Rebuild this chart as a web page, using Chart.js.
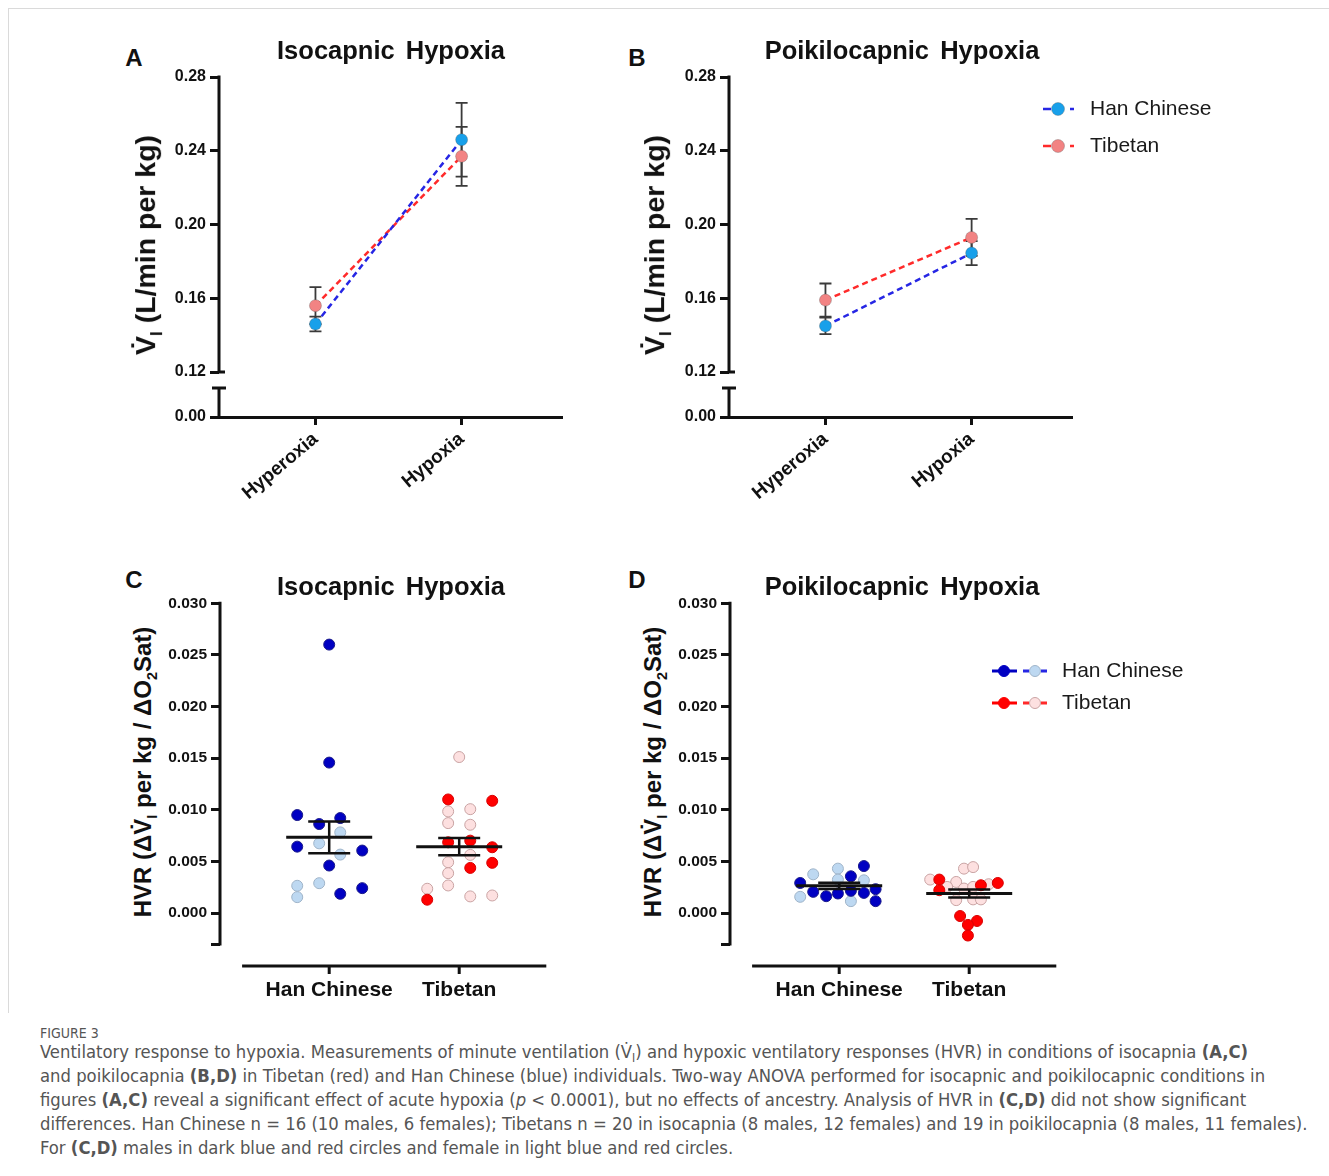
<!DOCTYPE html>
<html>
<head>
<meta charset="utf-8">
<title>Figure 3 - Ventilatory response to hypoxia</title>
<script src="https://cdn.jsdelivr.net/npm/chart.js@4.4.1/dist/chart.umd.min.js"></script>
<style>
  body { margin: 0; background: #fff; width: 1329px; height: 1176px; position: relative; overflow: hidden; font-family: 'Liberation Sans', Arial, sans-serif; }
  .frame { position: absolute; left: 8px; top: 8px; width: 1330px; height: 1004px; border-top: 1px solid #dadada; border-left: 1px solid #dadada; }
  canvas { position: absolute; }
  .txt { position: absolute; color: #111; font-weight: bold; white-space: nowrap; line-height: 1; transform: translate(-50%, -50%); }
  .letter { font-size: 24px; }
  .title { font-size: 25.5px; word-spacing: 4px; }
  .ytitle { transform: translate(-50%, -50%) rotate(-90deg); }
  .ytitle sub { font-size: 60%; }
  .fig { position: absolute; left: 40px; top: 1025px; font-family: 'DejaVu Sans Condensed', 'Liberation Sans Narrow', sans-serif; font-size: 14px; line-height: 16px; color: #555; }
  .caption { position: absolute; left: 40px; top: 1040px; font-family: 'DejaVu Sans Condensed', 'Liberation Sans Narrow', sans-serif; font-size: 18.3px; line-height: 24px; color: #555; white-space: nowrap; }
  .caption sub { font-size: 65%; vertical-align: baseline; position: relative; top: 0.35em; line-height: 0; }
</style>
</head>
<body>
<div class="frame"></div>

<canvas id="chartA" width="440" height="460" style="left:160px; top:60px;"></canvas>
<canvas id="chartB" width="570" height="460" style="left:670px; top:60px;"></canvas>
<canvas id="chartC" width="420" height="430" style="left:160px; top:590px;"></canvas>
<canvas id="chartD" width="570" height="430" style="left:670px; top:590px;"></canvas>

<div class="txt letter" style="left:134px; top:58px;">A</div>
<div class="txt letter" style="left:637px; top:58px;">B</div>
<div class="txt letter" style="left:134px; top:580px;">C</div>
<div class="txt letter" style="left:637px; top:580px;">D</div>

<div class="txt title" style="left:391px; top:51px;">Isocapnic Hypoxia</div>
<div class="txt title" style="left:902px; top:51px;">Poikilocapnic Hypoxia</div>
<div class="txt title" style="left:391px; top:587px;">Isocapnic Hypoxia</div>
<div class="txt title" style="left:902px; top:587px;">Poikilocapnic Hypoxia</div>

<div class="txt ytitle" style="left:148px; top:245px; font-size:28.5px;">V&#775;<sub>I</sub> (L/min per kg)</div>
<div class="txt ytitle" style="left:657px; top:245px; font-size:28.5px;">V&#775;<sub>I</sub> (L/min per kg)</div>
<div class="txt ytitle" style="left:145px; top:772px; font-size:24px;">HVR (&Delta;V&#775;<sub>I</sub> per kg / &Delta;O<sub>2</sub>Sat)</div>
<div class="txt ytitle" style="left:655px; top:772px; font-size:24px;">HVR (&Delta;V&#775;<sub>I</sub> per kg / &Delta;O<sub>2</sub>Sat)</div>

<div class="fig">FIGURE 3</div>
<div class="caption">
Ventilatory response to hypoxia. Measurements of minute ventilation (V&#775;<sub>I</sub>) and hypoxic ventilatory responses (HVR) in conditions of isocapnia <b>(A,C)</b><br>
and poikilocapnia <b>(B,D)</b> in Tibetan (red) and Han Chinese (blue) individuals. Two-way ANOVA performed for isocapnic and poikilocapnic conditions in<br>
figures <b>(A,C)</b> reveal a significant effect of acute hypoxia (<i>p</i> &lt; 0.0001), but no effects of ancestry. Analysis of HVR in <b>(C,D)</b> did not show significant<br>
differences. Han Chinese n = 16 (10 males, 6 females); Tibetans n = 20 in isocapnia (8 males, 12 females) and 19 in poikilocapnia (8 males, 11 females).<br>
For <b>(C,D)</b> males in dark blue and red circles and female in light blue and red circles.
</div>

<script>
const conditions = ['Hyperoxia', 'Hypoxia'];
const groups = ['Han Chinese', 'Tibetan'];

// A: isocapnic ventilation, mean and SEM (L/min per kg)
const isoHanMean = [0.146, 0.246];
const isoHanSem = [0.004, 0.020];
const isoTibMean = [0.156, 0.237];
const isoTibSem = [0.010, 0.016];

// B: poikilocapnic ventilation
const poiHanMean = [0.145, 0.1845];
const poiHanSem = [0.0045, 0.0065];
const poiTibMean = [0.159, 0.193];
const poiTibSem = [0.009, 0.010];

const ventTicks = [0.12, 0.16, 0.20, 0.24, 0.28];
const ventZero = 0.0956;      // axis value standing in for 0.00 below the break
const ventBreakTop = 0.1113;  // top of the short lower piece of the axis

// C: isocapnic HVR per subject, [group position (1 = Han, 2 = Tibetan, jittered), value]
const isoHanMale = [[1.00, 0.0260], [1.00, 0.01457], [0.754, 0.00949], [0.923, 0.00862], [1.085, 0.0092],
  [0.754, 0.00643], [1.254, 0.00605], [1.00, 0.0046], [1.085, 0.00186], [1.254, 0.00241]];
const isoHanFemale = [[1.085, 0.00781], [0.923, 0.00675], [1.085, 0.00566], [0.754, 0.00264], [0.754, 0.00154], [0.923, 0.00289]];
const isoTibMale = [[1.915, 0.0110], [2.254, 0.01087], [1.915, 0.00685], [2.085, 0.00701], [2.254, 0.00637],
  [2.085, 0.00437], [2.254, 0.00486], [1.754, 0.00129]];
const isoTibFemale = [[2.00, 0.01511], [1.915, 0.00984], [2.085, 0.01006], [1.915, 0.00871], [2.085, 0.00855], [2.085, 0.00563],
  [1.915, 0.00492], [1.915, 0.00386], [1.915, 0.00267], [1.754, 0.00235], [2.085, 0.00161], [2.254, 0.0017]];

// D: poikilocapnic HVR per subject
const poiHanMale = [[0.70, 0.00291], [0.80, 0.00205], [0.90, 0.00163], [0.99, 0.00189], [1.09, 0.00356],
  [1.09, 0.00215], [1.19, 0.00455], [1.19, 0.00195], [1.28, 0.00231], [1.28, 0.00115]];
const poiHanFemale = [[0.70, 0.00157], [0.80, 0.00375], [0.99, 0.0043], [0.99, 0.00324], [1.09, 0.00115], [1.19, 0.00317]];
const poiTibMale = [[1.77, 0.00324], [1.77, 0.00221], [2.09, 0.00269], [2.22, 0.00291], [1.93, -0.00029],
  [2.06, -0.00077], [1.99, -0.00115], [1.99, -0.00218]];
const poiTibFemale = [[1.96, 0.0043], [2.03, 0.00445], [1.70, 0.00324], [1.90, 0.00301], [1.83, 0.00253], [1.96, 0.00237],
  [2.03, 0.00253], [2.15, 0.00279], [1.90, 0.00125], [2.03, 0.00132], [2.09, 0.00132]];

// group mean and SEM of HVR, [Han, Tibetan]
const isoHvrMean = [0.00733, 0.00643];
const isoHvrSem = [0.00153, 0.00084];
const poiHvrMean = [0.00263, 0.00189];
const poiHvrSem = [0.00030, 0.00039];

const hvrTicks = [0, 0.005, 0.010, 0.015, 0.020, 0.025, 0.030];
const hvrMin = -0.003;
const hvrAxisStart = 0.33;

const FONT = "'Liberation Sans', Arial, sans-serif";
const INK = '#111';
const HAN_LINE = '#2626e4', HAN_DOT = '#18a0ea';
const TIB_LINE = '#ff2a2a', TIB_DOT = '#f28383';
const HAN_M = '#0000c2', HAN_F = '#bdd8f1';
const TIB_M = '#ff0000', TIB_F = '#fde0e0';

Chart.defaults.font.family = FONT;

function errorBar(ctx, x, yTop, yBot, cap) {
  ctx.beginPath();
  ctx.moveTo(x, yTop); ctx.lineTo(x, yBot);
  ctx.moveTo(x - cap, yTop); ctx.lineTo(x + cap, yTop);
  ctx.moveTo(x - cap, yBot); ctx.lineTo(x + cap, yBot);
  ctx.stroke();
}

function legendText(ctx, label, x, y) {
  ctx.fillStyle = '#1a1a1a';
  ctx.font = '21px ' + FONT;
  ctx.textAlign = 'left';
  ctx.textBaseline = 'middle';
  ctx.fillText(label, x, y);
}

function dot(ctx, x, y, r, fill, stroke) {
  ctx.beginPath();
  ctx.arc(x, y, r, 0, Math.PI * 2);
  ctx.fillStyle = fill;
  ctx.fill();
  ctx.lineWidth = 1;
  ctx.strokeStyle = stroke;
  ctx.stroke();
}

function makeVentChart(id, hanMean, hanSem, tibMean, tibSem, padRight, withLegend) {
  const sems = [hanSem, tibSem];
  const extras = {
    id: 'ventExtras',
    beforeDatasetsDraw(chart) {
      const {ctx, scales: {x, y}} = chart;
      ctx.save();
      ctx.strokeStyle = '#3a3a3a';
      ctx.lineWidth = 1.8;
      chart.data.datasets.forEach((ds, d) => {
        ds.data.forEach((p, i) => {
          errorBar(ctx, x.getPixelForValue(p.x), y.getPixelForValue(p.y + sems[d][i]), y.getPixelForValue(p.y - sems[d][i]), 6);
        });
      });
      ctx.restore();
    },
    afterDraw(chart) {
      const {ctx, chartArea: a, scales: {y}} = chart;
      ctx.save();
      ctx.strokeStyle = INK;
      ctx.lineWidth = 3;
      const low = y.getPixelForValue(ventTicks[0]);
      const bt = y.getPixelForValue(ventBreakTop);
      ctx.beginPath();
      ctx.moveTo(a.left, a.top - 1.5);
      ctx.lineTo(a.left, low);
      ctx.moveTo(a.left, low);
      ctx.lineTo(a.left + 6, low);
      ctx.moveTo(a.left, bt);
      ctx.lineTo(a.left, a.bottom);
      ctx.moveTo(a.left - 7, bt);
      ctx.lineTo(a.left + 7, bt);
      ctx.stroke();

      if (withLegend) {
        const rows = [[groups[0], HAN_LINE, HAN_DOT, 49], [groups[1], TIB_LINE, TIB_DOT, 86]];
        rows.forEach(([label, line, fill, ly]) => {
          ctx.strokeStyle = line;
          ctx.lineWidth = 2.5;
          ctx.beginPath();
          ctx.moveTo(373, ly); ctx.lineTo(381, ly);
          ctx.moveTo(400, ly); ctx.lineTo(404, ly);
          ctx.stroke();
          dot(ctx, 388, ly, 6.5, fill, 'rgba(80,80,80,0.3)');
          legendText(ctx, label, 420, ly);
        });
      }
      ctx.restore();
    }
  };

  const series = (mean, line, fill, label) => ({
    label: label,
    data: mean.map((v, i) => ({x: i, y: v})),
    borderColor: line,
    borderDash: [6, 4],
    borderWidth: 2.5,
    pointRadius: 6,
    pointBackgroundColor: fill,
    pointBorderColor: 'rgba(80,80,80,0.3)',
    pointBorderWidth: 1
  });

  new Chart(document.getElementById(id), {
    type: 'line',
    data: {
      datasets: [
        series(hanMean, HAN_LINE, HAN_DOT, groups[0]),
        series(tibMean, TIB_LINE, TIB_DOT, groups[1])
      ]
    },
    options: {
      responsive: false,
      animation: false,
      events: [],
      layout: {padding: {top: 17, right: padRight, left: 0, bottom: 0}},
      plugins: {legend: {display: false}, tooltip: {enabled: false}},
      scales: {
        x: {
          type: 'linear', min: -0.66, max: 1.68,
          afterBuildTicks: s => { s.ticks = conditions.map((c, i) => ({value: i})); },
          afterFit: s => { s.height = 103; },
          grid: {display: true, drawOnChartArea: false, tickLength: 8, lineWidth: 3, color: INK},
          border: {display: true, width: 3, color: INK},
          ticks: {
            callback: v => conditions[v], autoSkip: false, minRotation: 40, maxRotation: 40, padding: 3,
            color: INK, font: {size: 19, weight: 'bold'}
          }
        },
        y: {
          min: ventZero, max: 0.28,
          afterBuildTicks: s => { s.ticks = [ventZero, ...ventTicks].map(v => ({value: v})); },
          afterFit: s => { s.width = 59; },
          grid: {display: true, drawOnChartArea: false, tickLength: 9, lineWidth: 3, color: INK},
          border: {display: false},
          ticks: {
            callback: v => (v === ventZero ? '0.00' : v.toFixed(2)), padding: 4,
            color: INK, font: {size: 16, weight: 'bold'}
          }
        }
      }
    },
    plugins: [extras]
  });
}

function makeHvrChart(id, sets, mean, sem, padRight, withLegend) {
  const extras = {
    id: 'hvrExtras',
    afterDatasetsDraw(chart) {
      const {ctx, scales: {x, y}} = chart;
      ctx.save();
      ctx.strokeStyle = INK;
      mean.forEach((m, i) => {
        const cx = x.getPixelForValue(i + 1);
        ctx.lineWidth = 3;
        ctx.beginPath();
        ctx.moveTo(cx - 43, y.getPixelForValue(m));
        ctx.lineTo(cx + 43, y.getPixelForValue(m));
        ctx.stroke();
        ctx.lineWidth = 2.5;
        errorBar(ctx, cx, y.getPixelForValue(m + sem[i]), y.getPixelForValue(m - sem[i]), 21);
      });
      ctx.restore();
    },
    afterDraw(chart) {
      const {ctx, chartArea: a, scales: {x}} = chart;
      ctx.save();
      ctx.strokeStyle = INK;
      ctx.lineWidth = 3;
      ctx.beginPath();
      ctx.moveTo(a.left, a.top - 1.5);
      ctx.lineTo(a.left, a.bottom + 1.5);
      const yl = a.bottom + 22;
      ctx.moveTo(x.getPixelForValue(hvrAxisStart), yl);
      ctx.lineTo(a.right, yl);
      groups.forEach((g, i) => {
        const px = x.getPixelForValue(i + 1);
        ctx.moveTo(px, yl);
        ctx.lineTo(px, yl + 8);
      });
      ctx.stroke();

      if (withLegend) {
        const rows = [[groups[0], HAN_M, HAN_LINE, HAN_F, '#9fb4c9', 81], [groups[1], TIB_M, TIB_LINE, TIB_F, '#c9a3a3', 113]];
        rows.forEach(([label, dark, line, light, edge, ly]) => {
          ctx.strokeStyle = dark;
          ctx.lineWidth = 3;
          ctx.beginPath();
          ctx.moveTo(322, ly); ctx.lineTo(347, ly);
          ctx.stroke();
          dot(ctx, 334, ly, 5.5, dark, dark);
          ctx.strokeStyle = line;
          ctx.lineWidth = 3;
          ctx.beginPath();
          ctx.moveTo(353, ly); ctx.lineTo(359, ly);
          ctx.moveTo(371, ly); ctx.lineTo(377, ly);
          ctx.stroke();
          dot(ctx, 365, ly, 5.5, light, edge);
          legendText(ctx, label, 392, ly);
        });
      }
      ctx.restore();
    }
  };

  const looks = [
    [HAN_M, '#1a1a8a'], [HAN_F, '#9fb4c9'], [TIB_M, '#d80000'], [TIB_F, '#c9a3a3']
  ];
  const names = ['Han Chinese male', 'Han Chinese female', 'Tibetan male', 'Tibetan female'];

  new Chart(document.getElementById(id), {
    type: 'scatter',
    data: {
      datasets: sets.map((pts, k) => ({
        label: names[k],
        data: pts.map(([px, v]) => ({x: px, y: v})),
        pointRadius: 5.5,
        pointBorderWidth: 1,
        pointBackgroundColor: looks[k][0],
        pointBorderColor: looks[k][1]
      }))
    },
    options: {
      responsive: false,
      animation: false,
      events: [],
      layout: {padding: {top: 12, right: padRight, left: 0, bottom: 0}},
      plugins: {legend: {display: false}, tooltip: {enabled: false}},
      scales: {
        x: {
          type: 'linear', min: 0.16, max: 2.67,
          afterBuildTicks: s => { s.ticks = groups.map((g, i) => ({value: i + 1})); },
          afterFit: s => { s.height = 76; },
          grid: {display: true, drawOnChartArea: false, tickLength: 27, color: 'rgba(0,0,0,0)'},
          border: {display: false},
          ticks: {
            callback: v => groups[v - 1], autoSkip: false, maxRotation: 0, padding: 7,
            color: INK, font: {size: 21, weight: 'bold'}
          }
        },
        y: {
          min: hvrMin, max: 0.030,
          afterBuildTicks: s => { s.ticks = [hvrMin, ...hvrTicks].map(v => ({value: v})); },
          afterFit: s => { s.width = 60; },
          grid: {display: true, drawOnChartArea: false, tickLength: 9, lineWidth: 3, color: INK},
          border: {display: false},
          ticks: {
            callback: v => (v === hvrMin ? '' : v.toFixed(3)), padding: 4,
            color: INK, font: {size: 15.5, weight: 'bold'}
          }
        }
      }
    },
    plugins: [extras]
  });
}

makeVentChart('chartA', isoHanMean, isoHanSem, isoTibMean, isoTibSem, 39, false);
makeVentChart('chartB', poiHanMean, poiHanSem, poiTibMean, poiTibSem, 169, true);
makeHvrChart('chartC', [isoHanMale, isoHanFemale, isoTibMale, isoTibFemale], isoHvrMean, isoHvrSem, 33.7, false);
makeHvrChart('chartD', [poiHanMale, poiHanFemale, poiTibMale, poiTibFemale], poiHvrMean, poiHvrSem, 183.7, true);
</script>
</body>
</html>
